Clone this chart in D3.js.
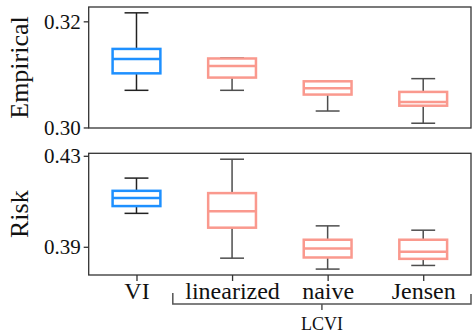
<!DOCTYPE html>
<html>
<head>
<meta charset="utf-8">
<script src="https://cdn.jsdelivr.net/npm/d3@7"></script>
<style>
  body { margin: 0; background: #fff; }
  svg { display: block; font-family: "Liberation Serif", "Times New Roman", serif; }
</style>
</head>
<body>
<svg id="chart" width="472" height="332"></svg>
<script>
var methods = ["VI", "linearized", "naive", "Jensen"];
var colors = ["#1e90ff", "#fa8072", "#fa8072", "#fa8072"];

// [whisker low, q1, median, q3, whisker high]
var empirical = [
  [0.3070, 0.3102, 0.3129, 0.3148, 0.3216],
  [0.3070, 0.3094, 0.3116, 0.3130, 0.3131],
  [0.3031, 0.3062, 0.3074, 0.3087, 0.3087],
  [0.3008, 0.3041, 0.3048, 0.3067, 0.3092]
];
var risk = [
  [0.4047, 0.4079, 0.4114, 0.4146, 0.4202],
  [0.3850, 0.3984, 0.4056, 0.4136, 0.4285],
  [0.3802, 0.3853, 0.3893, 0.3931, 0.3992],
  [0.3818, 0.3847, 0.3878, 0.3931, 0.3973]
];
var empTicks = [0.30, 0.32];
var riskTicks = [0.39, 0.43];

var svg = d3.select("#chart");
var left = 88.7, right = 471;

var x = d3.scaleLinear().domain([0, 4]).range([left, right]);

var panels = [
  {label: "Empirical", data: empirical, ticks: empTicks, top: 7, bottom: 128, domain: [0.2999, 0.3227]},
  {label: "Risk", data: risk, ticks: riskTicks, top: 153.3, bottom: 275, domain: [0.3776, 0.4311]}
];

panels.forEach(function(p, pi) {
  var y = d3.scaleLinear().domain(p.domain).range([p.bottom, p.top]);
  var g = svg.append("g");

  var boxes = g.selectAll("g.box")
      .data(p.data)
    .enter().append("g")
      .attr("class", "box")
      .attr("opacity", function(d, i) { return i === 0 ? 1 : 0.8; });

  boxes.each(function(d, i) {
    var b = d3.select(this);
    var cx = x(i + 0.5);
    var bw = (x(1) - x(0)) * 0.5;
    var cw = bw / 2;
    // whiskers
    b.append("line").attr("x1", cx).attr("x2", cx).attr("y1", y(d[0])).attr("y2", y(d[1]))
      .attr("stroke", "#222").attr("stroke-width", 1.5);
    b.append("line").attr("x1", cx).attr("x2", cx).attr("y1", y(d[3])).attr("y2", y(d[4]))
      .attr("stroke", "#222").attr("stroke-width", 1.5);
    b.append("line").attr("x1", cx - cw / 2).attr("x2", cx + cw / 2).attr("y1", y(d[0])).attr("y2", y(d[0]))
      .attr("stroke", "#222").attr("stroke-width", 1.5);
    b.append("line").attr("x1", cx - cw / 2).attr("x2", cx + cw / 2).attr("y1", y(d[4])).attr("y2", y(d[4]))
      .attr("stroke", "#222").attr("stroke-width", 1.5);
    // box
    b.append("rect").attr("x", cx - bw / 2).attr("width", bw)
      .attr("y", y(d[3])).attr("height", y(d[1]) - y(d[3]))
      .attr("fill", "#fff").attr("stroke", colors[i]).attr("stroke-width", 2.5);
    b.append("line").attr("x1", cx - bw / 2).attr("x2", cx + bw / 2).attr("y1", y(d[2])).attr("y2", y(d[2]))
      .attr("stroke", colors[i]).attr("stroke-width", 2.5);
  });

  // frame
  g.append("rect").attr("x", left).attr("y", p.top)
    .attr("width", right - left).attr("height", p.bottom - p.top)
    .attr("fill", "none").attr("stroke", "#333").attr("stroke-width", 1.3);

  var yAxis = d3.axisLeft(y).tickValues(p.ticks).tickSize(5).tickPadding(3)
    .tickFormat(d3.format(".2f"));
  var ya = g.append("g").attr("transform", "translate(" + left + ",0)").call(yAxis);
  ya.select(".domain").remove();
  ya.selectAll("line").attr("stroke", "#333").attr("stroke-width", 1.3);
  ya.selectAll("text").attr("font-size", 21).attr("font-family", "Liberation Serif").attr("fill", "#111");

  g.append("text")
    .attr("transform", "translate(28," + ((p.top + p.bottom) / 2) + ") rotate(-90)")
    .attr("text-anchor", "middle")
    .attr("font-size", 26)
    .attr("fill", "#111")
    .text(p.label);

  if (pi === 1) {
    var xAxis = d3.axisBottom(x).tickValues([0.5, 1.5, 2.5, 3.5]).tickSize(6).tickPadding(1)
      .tickFormat(function(d, i) { return methods[i]; });
    var xa = g.append("g").attr("transform", "translate(0," + p.bottom + ")").call(xAxis);
    xa.select(".domain").remove();
    xa.selectAll("line").attr("stroke", "#333").attr("stroke-width", 1.3);
    xa.selectAll("text").attr("font-size", 24).attr("font-family", "Liberation Serif").attr("fill", "#111");

    // LCVI bracket
    var bx0 = x(0.88), bx1 = x(4.0), bm = x(2.44);
    g.append("path")
      .attr("d", "M" + bx0 + ",293V304H" + bx1 + "V294")
      .attr("fill", "none").attr("stroke", "#555").attr("stroke-width", 1.5);
    g.append("line").attr("x1", bm).attr("x2", bm).attr("y1", 304).attr("y2", 310)
      .attr("stroke", "#555").attr("stroke-width", 1.5);
    g.append("text").attr("x", bm).attr("y", 329.5).attr("text-anchor", "middle")
      .attr("font-size", 18).attr("fill", "#111").text("LCVI");
  }
});
</script>
</body>
</html>
